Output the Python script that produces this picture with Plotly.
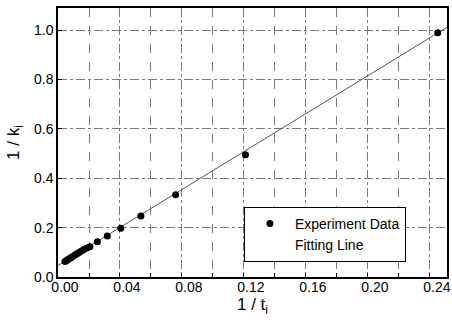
import plotly.graph_objects as go

# Experimental data: 1/t_i vs 1/k_i
inv_t = [0.0045, 0.0055, 0.0065, 0.0075, 0.0086, 0.0097, 0.0109, 0.0122,
         0.0136, 0.0151, 0.0167, 0.0185, 0.0206, 0.0254, 0.0318, 0.0405,
         0.0535, 0.0759, 0.121, 0.245]
inv_k = [0.063, 0.067, 0.071, 0.075, 0.079, 0.084, 0.089, 0.094,
         0.099, 0.105, 0.111, 0.118, 0.123, 0.143, 0.166, 0.198,
         0.247, 0.333, 0.495, 0.990]

# Fitting line end points
fit_x = [0.0, 0.251]
fit_y = [0.047, 1.012]

x_ticks = [0.00, 0.04, 0.08, 0.12, 0.16, 0.20, 0.24]
x_ticklabels = ["0.00", "0.04", "0.08", "0.12", "0.16", "0.20", "0.24"]
y_ticks = [0.0, 0.2, 0.4, 0.6, 0.8, 1.0]
y_ticklabels = ["0.0", "0.2", "0.4", "0.6", "0.8", "1.0"]

FONT = "Liberation Sans, Arial, sans-serif"
GRID = "#7a7a7a"
X_RANGE = [0, 0.251]
LABEL_SHIFT = 0.0045   # printed tick labels sit slightly right of their ticks

fig = go.Figure()
fig.add_trace(go.Scatter(
    x=fit_x, y=fit_y, mode="lines",
    line=dict(color="#555555", width=1),
    showlegend=False, hoverinfo="skip"))
fig.add_trace(go.Scatter(
    x=inv_t, y=inv_k, mode="markers", name="Experiment Data",
    marker=dict(color="black", size=7)))
# legend entry for the fitting line (its sample is not visible in the original)
fig.add_trace(go.Scatter(
    x=[None], y=[None], mode="lines", name="Fitting Line", xaxis="x2",
    line=dict(color="rgba(0,0,0,0)", width=1)))

fig.update_layout(
    xaxis=dict(
        range=X_RANGE, tickvals=x_ticks, showticklabels=False,
        showline=True, linecolor="black", linewidth=1.5, mirror=True,
        ticks="inside", ticklen=4, tickcolor="black",
        showgrid=True, gridcolor=GRID, gridwidth=1, griddash="dashdot",
        minor=dict(dtick=0.02, tick0=0, showgrid=True, gridcolor=GRID,
                   gridwidth=1, griddash="dash", ticks="inside", ticklen=4,
                   tickcolor="black"),
        zeroline=False, automargin=False, layer="above traces"),
    xaxis2=dict(
        overlaying="x", anchor="y", side="bottom",
        range=[X_RANGE[0] - LABEL_SHIFT, X_RANGE[1] - LABEL_SHIFT],
        tickvals=x_ticks, ticktext=x_ticklabels,
        ticks="", showline=False, showgrid=False, zeroline=False,
        automargin=False,
        tickfont=dict(family=FONT, size=14, color="black"),
        title=dict(text="1 / t<sub>i</sub>",
                   font=dict(family=FONT, size=17, color="black"), standoff=1)),
    yaxis=dict(
        range=[0, 1.09], tickvals=y_ticks, ticktext=y_ticklabels,
        showline=True, linecolor="black", linewidth=1.5, mirror=True,
        ticks="inside", ticklen=4, tickcolor="black",
        showgrid=True, gridcolor=GRID, gridwidth=1, griddash="dashdot",
        zeroline=False, automargin=False,
        tickfont=dict(family=FONT, size=14, color="black"),
        title=dict(text="1 / k<sub>i</sub>",
                   font=dict(family=FONT, size=17, color="black"), standoff=10)),
)

fig.update_layout(
    width=452, height=330,
    margin=dict(l=58, r=5, t=8, b=53),
    paper_bgcolor="white", plot_bgcolor="white",
    font=dict(family=FONT, size=14, color="black"),
    legend=dict(x=0.478, y=0.261, xanchor="left", yanchor="top",
                bgcolor="white", bordercolor="black", borderwidth=1,
                font=dict(family=FONT, size=14, color="black"),
                itemwidth=40, tracegroupgap=0),
)

# remove the default 8px page margin so the figure fills the window exactly
fig.write_html("out.html",
               config={"displayModeBar": False},
               post_script="document.body.style.margin='0';"
                           "document.body.style.overflow='hidden';")
